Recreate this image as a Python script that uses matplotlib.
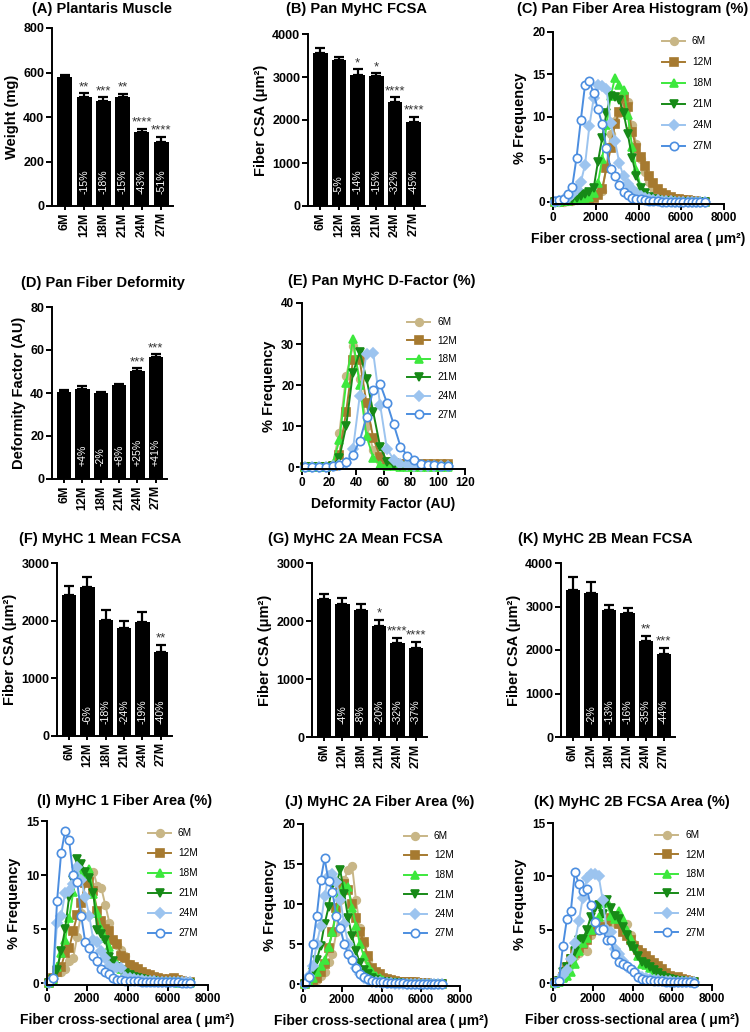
import numpy as np
import matplotlib
matplotlib.use('Agg')
import matplotlib.pyplot as plt

plt.rcParams['font.family'] = ['Liberation Sans', 'DejaVu Sans']
plt.rcParams['font.weight'] = 'bold'
plt.rcParams['axes.labelweight'] = 'bold'

# ---------------- data ----------------
ages = ['6M', '12M', '18M', '21M', '24M', '27M']

# (A) Plantaris muscle weight (mg)
weight_mean = [578, 492, 473, 492, 334, 287]
weight_err = [9, 14, 15, 13, 14, 24]
weight_stars = ['', '**', '***', '**', '****', '****']
weight_pct = ['', '-15%', '-18%', '-15%', '-43%', '-51%']

# (B) Pan MyHC FCSA
pan_mean = [3550, 3385, 3045, 3020, 2415, 1950]
pan_err = [115, 90, 130, 65, 110, 125]
pan_stars = ['', '', '*', '*', '****', '****']
pan_pct = ['', '-5%', '-14%', '-15%', '-32%', '-45%']

# (D) Pan fiber deformity factor
dfac_mean = [40.4, 41.8, 39.8, 43.9, 50.3, 56.8]
dfac_err = [0.9, 1.5, 0.6, 0.5, 1.2, 1.2]
dfac_stars = ['', '', '', '', '***', '***']
dfac_pct = ['', '+4%', '-2%', '+8%', '+25%', '+41%']

# (F) MyHC 1 mean FCSA
m1_mean = [2450, 2585, 2015, 1865, 1970, 1465]
m1_err = [156, 165, 163, 121, 173, 116]
m1_stars = ['', '', '', '', '', '**']
m1_pct = ['', '-6%', '-18%', '-24%', '-19%', '-40%']

# (G) MyHC 2A mean FCSA
m2a_mean = [2377, 2290, 2198, 1921, 1627, 1529]
m2a_err = [86, 104, 92, 98, 81, 115]
m2a_stars = ['', '', '', '*', '****', '****']
m2a_pct = ['', '-4%', '-8%', '-20%', '-32%', '-37%']

# (K) MyHC 2B mean FCSA
m2b_mean = [3382, 3320, 2926, 2857, 2201, 1900]
m2b_err = [286, 248, 101, 116, 123, 154]
m2b_stars = ['', '', '', '', '**', '***']
m2b_pct = ['', '-2%', '-13%', '-16%', '-35%', '-44%']

# histogram bins
area_bins = list(range(100, 7200, 200))     # fiber area bin centres (um^2)
dfac_bins = [2.5 + 5 * k for k in range(22)]  # deformity factor bin centres

# (C) Pan fiber area histogram (%)
c_6m = [0.0,0.0,0.0,0.1,0.1,0.2,0.3,0.4,0.5,0.7,1.0,1.3,4.2,8.0,9.5,10.5,11.9,11.8,9.0,6.8,5.0,3.5,2.4,1.6,1.0,0.7,0.5,0.3,0.2,0.2,0.1,0.1,0.1,0.0,0.0,0.0]
c_12m = [0.0,0.0,0.1,0.1,0.2,0.2,0.3,0.3,0.4,0.5,0.8,1.5,4.0,6.3,9.2,10.6,12.3,11.2,8.2,6.4,5.3,4.2,3.0,2.2,1.5,1.0,0.8,0.6,0.4,0.3,0.2,0.2,0.1,0.1,0.0,0.0]
c_18m = [0.0,0.0,0.1,0.1,0.2,0.2,0.3,0.5,0.6,1.0,2.2,5.0,9.0,12.5,14.6,13.8,13.2,10.2,6.5,3.8,1.8,0.9,0.5,0.3,0.2,0.1,0.1,0.1,0.0,0.0,0.0,0.0,0.0,0.0,0.0,0.0]
c_21m = [0.0,0.0,0.1,0.1,0.3,0.5,0.7,0.9,1.2,1.6,4.7,7.5,10.5,12.5,12.4,12.0,10.5,8.0,5.2,3.0,1.7,1.0,0.6,0.4,0.2,0.1,0.1,0.1,0.0,0.0,0.0,0.0,0.0,0.0,0.0,0.0]
c_24m = [0.0,0.1,0.3,0.5,0.9,1.5,2.3,4.4,8.9,12.2,13.8,13.6,13.3,9.3,7.2,4.6,3.0,2.1,1.5,1.0,0.7,0.5,0.3,0.2,0.2,0.1,0.1,0.1,0.0,0.0,0.0,0.0,0.0,0.0,0.0,0.0]
c_27m = [0.1,0.2,0.4,0.9,1.8,5.2,9.6,13.8,14.2,12.8,10.9,9.2,6.3,3.9,3.0,2.0,1.2,0.8,0.5,0.4,0.3,0.2,0.1,0.1,0.1,0.0,0.0,0.0,0.0,0.0,0.0,0.0,0.0,0.0,0.0,0.0]

# (E) Pan MyHC D-factor (%)
e_6m = [0,0,0,0,0.5,8.3,22.2,29.5,21.5,10.0,4.2,1.5,0.7,0.4,0.3,0.3,0.2,0.2,0.2,0.2,0.2,0.3]
e_12m = [0,0,0,0,0.2,3.0,13.5,26.0,26.0,15.5,7.0,2.5,1.2,0.9,0.8,0.8,0.8,0.8,0.7,0.7,0.7,0.8]
e_18m = [0,0,0,0.1,0.8,6.5,20.5,31.2,20.0,7.5,2.3,0.6,0.3,0.2,0.1,0.1,0,0,0,0,0,0]
e_21m = [0,0,0,0,0.3,2.2,10.0,23.0,28.0,21.5,13.3,5.0,1.3,0.5,0.3,0.2,0.1,0.1,0.1,0.1,0.1,0.1]
e_24m = [0,0,0,0,0.2,0.5,1.0,4.3,17.3,27.6,27.7,15.2,4.5,1.8,0.8,0.4,0.3,0.2,0.2,0.2,0.2,0.2]
e_27m = [0,0,0,0.1,0.3,0.6,1.2,3.0,6.4,12.2,18.9,20.3,15.7,10.4,5.0,2.8,1.7,0.8,0.5,0.4,0.3,0.3]

# (I) MyHC 1 fiber area (%)
i_6m = [0.0,0.5,1.0,1.0,1.3,2.0,2.3,4.3,6.5,9.4,9.8,10.3,9.0,8.8,7.2,5.6,4.0,3.5,3.1,2.5,1.8,1.3,1.0,0.8,0.6,0.5,0.4,0.3,0.3,0.3,0.4,0.5,0.3,0.2,0.1,0.1]
i_12m = [0.0,0.5,1.0,1.5,2.8,3.2,4.8,6.3,7.4,9.3,9.4,8.5,6.7,5.7,5.0,4.8,4.0,3.6,2.5,2.3,1.7,1.5,1.3,1.0,0.8,0.7,0.6,0.5,0.4,0.3,0.4,0.5,0.3,0.2,0.1,0.1]
i_18m = [0.0,0.3,1.5,2.8,4.0,6.0,8.4,10.2,10.2,10.0,10.6,8.2,6.5,5.0,4.2,3.3,2.0,1.8,1.3,1.0,0.8,0.6,0.5,0.4,0.3,0.2,0.2,0.1,0.1,0.1,0.1,0.1,0.0,0.0,0.0,0.0]
i_21m = [0.0,0.4,1.2,3.0,5.0,8.0,9.5,11.5,11.0,10.3,9.7,8.3,4.9,4.5,4.0,2.4,2.0,1.5,1.2,0.9,0.7,0.6,0.5,0.4,0.3,0.2,0.2,0.1,0.1,0.1,0.1,0.1,0.1,0.0,0.0,0.0]
i_24m = [0.0,0.4,5.6,6.2,8.3,8.5,9.2,10.7,9.5,8.0,6.2,4.0,3.8,3.0,2.3,1.6,1.3,1.5,1.4,0.6,0.5,0.4,0.3,0.3,0.2,0.2,0.2,0.1,0.1,0.1,0.1,0.1,0.1,0.1,0.1,0.1]
i_27m = [0.1,0.5,7.6,12.0,14.1,13.2,10.0,9.4,6.2,3.8,3.2,2.5,2.0,1.3,1.0,0.8,0.5,0.3,0.3,0.2,0.2,0.2,0.2,0.1,0.1,0.1,0.1,0.1,0.1,0.1,0.1,0.1,0.1,0.0,0.0,0.0]

# (J) MyHC 2A fiber area (%)
j_6m = [0.0,0.2,0.3,0.5,1.0,1.5,2.8,3.8,6.5,10.5,13.0,14.3,14.8,10.5,7.0,5.0,3.0,2.0,1.3,1.0,0.7,0.5,0.4,0.3,0.2,0.2,0.1,0.1,0.1,0.1,0.1,0.1,0.0,0.0,0.0,0.0]
j_12m = [0.0,0.3,0.5,0.8,1.5,2.5,4.5,6.5,9.5,12.4,12.5,11.8,10.0,8.3,6.5,5.2,3.5,2.0,1.5,1.2,0.8,0.6,0.5,0.4,0.3,0.3,0.3,0.3,0.2,0.1,0.1,0.1,0.0,0.0,0.0,0.0]
j_18m = [0.0,0.3,0.8,1.5,2.2,3.0,4.6,6.5,9.0,11.2,12.3,12.1,9.5,7.3,5.0,3.5,2.2,1.5,1.0,0.7,0.5,0.3,0.2,0.2,0.1,0.1,0.1,0.0,0.0,0.0,0.0,0.0,0.0,0.0,0.0,0.0]
j_21m = [0.0,0.5,1.5,3.0,4.8,7.5,9.6,12.4,12.6,14.2,11.3,8.2,6.0,4.1,2.6,1.8,1.2,0.8,0.5,0.3,0.2,0.2,0.1,0.1,0.1,0.0,0.0,0.0,0.0,0.0,0.0,0.0,0.0,0.0,0.0,0.0]
j_24m = [0.0,1.0,2.2,5.0,7.3,11.0,13.5,13.8,12.8,10.5,7.5,5.0,3.2,2.0,1.2,0.8,0.5,0.3,0.2,0.2,0.1,0.1,0.1,0.0,0.0,0.0,0.0,0.0,0.0,0.0,0.0,0.0,0.0,0.0,0.0,0.0]
j_27m = [0.1,0.9,5.0,8.5,13.0,15.7,12.9,11.5,8.5,7.0,5.0,3.8,3.0,2.0,1.3,0.9,0.6,0.4,0.3,0.2,0.2,0.1,0.1,0.1,0.1,0.1,0.0,0.0,0.0,0.0,0.0,0.0,0.0,0.0,0.0,0.0]

# (K) MyHC 2B FCSA area (%)
k_6m = [0.0,0.2,0.8,1.5,2.0,2.5,2.8,3.5,3.0,4.5,5.0,5.5,5.5,5.2,6.0,5.6,5.5,5.3,5.5,4.5,3.7,3.2,2.6,2.3,1.8,1.5,1.2,1.0,0.8,0.6,0.5,0.4,0.3,0.2,0.1,0.1]
k_12m = [0.0,0.2,0.6,1.5,2.3,2.8,3.3,3.7,4.0,4.9,5.0,5.2,5.3,5.2,6.1,6.3,5.5,4.8,4.4,4.0,3.5,3.1,2.8,2.5,2.2,1.9,1.6,1.3,0.9,0.7,0.5,0.6,0.4,0.3,0.2,0.1]
k_18m = [0.0,0.1,0.5,0.7,1.0,1.8,3.0,3.8,4.2,5.0,5.8,6.2,7.5,7.7,6.3,6.0,6.8,6.0,5.0,4.1,3.5,2.5,1.8,1.7,1.4,1.0,0.8,0.7,0.5,0.4,0.3,0.2,0.2,0.1,0.1,0.1]
k_21m = [0.0,0.2,1.0,1.5,2.3,3.0,4.0,4.1,5.0,6.2,7.0,7.3,6.5,7.8,7.0,6.3,6.0,5.3,4.5,3.5,3.2,2.5,2.0,1.8,1.5,1.2,0.9,0.7,0.5,0.4,0.3,0.2,0.2,0.1,0.1,0.1]
k_24m = [0.0,0.2,0.8,1.2,2.3,3.8,5.8,8.0,9.8,10.2,10.2,10.0,7.8,5.0,4.8,3.2,2.7,2.1,1.5,1.3,1.1,0.8,0.6,0.5,0.4,0.3,0.3,0.2,0.2,0.2,0.1,0.1,0.1,0.1,0.1,0.1]
k_27m = [0.1,0.2,3.5,6.0,6.8,10.4,9.3,8.6,8.8,7.3,5.7,5.0,5.1,4.0,4.0,2.7,2.0,1.8,1.6,1.3,1.0,0.6,0.4,0.3,0.3,0.2,0.2,0.2,0.1,0.1,0.1,0.1,0.1,0.1,0.1,0.0]

# ---------------- styling ----------------
colors = ['#C8B686', '#A67A30', '#3DE83D', '#178A17', '#9CC4EF', '#4C8EE0']
markers = ['o', 's', '^', 'v', 'D', 'o']
msizes = [5.5, 5.5, 6, 6, 5, 6]

W, H = 750, 1032
fig = plt.figure(figsize=(W / 100, H / 100), dpi=100)


def add_axes_px(x0, x1, yt, yb):
    return fig.add_axes([x0 / W, 1 - yb / H, (x1 - x0) / W, (yb - yt) / H])


def style(ax, fs=8.5):
    for s in ['top', 'right']:
        ax.spines[s].set_visible(False)
    for s in ['left', 'bottom']:
        ax.spines[s].set_linewidth(1.4)
    ax.tick_params(direction='out', length=4, width=1.4, labelsize=fs, pad=1.5)


def title_px(cx, cy, text):
    fig.text(cx / W, 1 - cy / H, text, ha='center', va='center',
             fontsize=10.5, fontweight='bold')


def bar_panel(box, title, tpos, means, errs, stars, pcts, ymax, ystep, ylabel):
    ax = add_axes_px(*box)
    style(ax, fs=9)
    x = np.arange(len(ages))
    ax.bar(x, means, width=0.78, color='black', zorder=2)
    ax.errorbar(x, means, yerr=[np.zeros(len(errs)), errs], fmt='none',
                ecolor='black', elinewidth=1.6, capsize=3.5, capthick=1.6,
                zorder=1)
    for i, (m, e, s, p) in enumerate(zip(means, errs, stars, pcts)):
        if s:
            ax.annotate(s, xy=(i, m + e), xytext=(0, 0),
                        textcoords='offset points', ha='center', va='bottom',
                        fontsize=9.5, fontweight='normal', color='#333333')
        if p:
            ax.annotate(p, xy=(i, 0), xytext=(0, 9),
                        textcoords='offset points', ha='center', va='bottom',
                        rotation=90, fontsize=7.6, fontweight='normal',
                        color='white', zorder=5)
    ax.set_xlim(-0.66, 5.61)
    ax.set_ylim(0, ymax)
    ax.set_yticks(np.arange(0, ymax + 1e-9, ystep))
    ax.set_xticks(x)
    ax.set_xticklabels(ages, rotation=90)
    ax.tick_params(axis='x', length=3)
    ax.set_ylabel(ylabel, fontsize=10.5, labelpad=3)
    title_px(*tpos, title)
    return ax


def hist_panel(box, title, tpos, xbins, series, xmax, xstep, ymax, ystep,
               xlabel, leg_xy, leg_sp):
    ax = add_axes_px(*box)
    style(ax, fs=8.5)
    for lab, ys, c, m, ms in zip(ages, series, colors, markers, msizes):
        mfc = 'white' if lab == '27M' else c
        ax.plot(xbins, ys, color=c, marker=m, ms=ms, mfc=mfc, mec=c,
                mew=1.2, lw=1.4, label=lab, clip_on=False)
    ax.set_xlim(0, xmax)
    ax.set_ylim(-0.012 * ymax, ymax)
    ax.set_xticks(np.arange(0, xmax + 1e-9, xstep))
    ax.set_yticks(np.arange(0, ymax + 1e-9, ystep))
    ax.set_ylabel('% Frequency', fontsize=10.5, labelpad=4)
    ax.set_xlabel(xlabel, fontsize=10, labelpad=6)
    ax.legend(loc='upper left', bbox_to_anchor=(leg_xy[0] / W, 1 - leg_xy[1] / H),
              bbox_transform=fig.transFigure, frameon=False,
              prop={'size': 7.2, 'weight': 'normal'}, handlelength=2.3,
              handletextpad=0.7, labelspacing=leg_sp, borderpad=0,
              borderaxespad=0)
    title_px(*tpos, title)
    return ax


area_label = 'Fiber cross-sectional area ( \u03bcm\u00b2)'
csa_label = 'Fiber CSA (\u03bcm\u00b2)'

bar_panel((52, 173, 28, 206), '(A) Plantaris Muscle', (102, 9),
          weight_mean, weight_err, weight_stars, weight_pct, 800, 200,
          'Weight (mg)')
bar_panel((308, 425, 34, 206), '(B) Pan MyHC FCSA', (356, 9),
          pan_mean, pan_err, pan_stars, pan_pct, 4000, 1000, csa_label)
hist_panel((553, 724, 32, 204), '(C) Pan Fiber Area Histogram (%)', (633, 9),
           area_bins, [c_6m, c_12m, c_18m, c_21m, c_24m, c_27m],
           8000, 2000, 20, 5, area_label, (662, 36), 1.1)

bar_panel((52, 167, 307, 479), '(D) Pan Fiber Deformity', (103, 283),
          dfac_mean, dfac_err, dfac_stars, dfac_pct, 80, 20,
          'Deformity Factor (AU)')
hist_panel((302, 465, 303, 469), '(E) Pan MyHC D-Factor (%)', (382, 281),
           dfac_bins, [e_6m, e_12m, e_18m, e_21m, e_24m, e_27m],
           120, 20, 40, 10, 'Deformity Factor (AU)', (407, 317), 0.85)

bar_panel((57, 172, 563, 736), '(F) MyHC 1 Mean FCSA', (100, 539),
          m1_mean, m1_err, m1_stars, m1_pct, 3000, 1000, csa_label)
bar_panel((312, 427, 563, 737), '(G) MyHC 2A Mean FCSA', (355, 539),
          m2a_mean, m2a_err, m2a_stars, m2a_pct, 3000, 1000, csa_label)
bar_panel((561, 675, 563, 737), '(K) MyHC 2B Mean FCSA', (605, 539),
          m2b_mean, m2b_err, m2b_stars, m2b_pct, 4000, 1000, csa_label)

hist_panel((47, 208, 821, 985), '(I) MyHC 1 Fiber Area (%)', (125, 801),
           area_bins, [i_6m, i_12m, i_18m, i_21m, i_24m, i_27m],
           8000, 2000, 15, 5, area_label, (148, 828), 1.0)
hist_panel((303, 460, 824, 986), '(J) MyHC 2A Fiber Area (%)', (380, 802),
           area_bins, [j_6m, j_12m, j_18m, j_21m, j_24m, j_27m],
           8000, 2000, 20, 5, area_label, (404, 831), 0.95)
hist_panel((553, 712, 823, 985), '(K) MyHC 2B FCSA Area (%)', (632, 802),
           area_bins, [k_6m, k_12m, k_18m, k_21m, k_24m, k_27m],
           8000, 2000, 15, 5, area_label, (655, 830), 0.95)

fig.savefig('out.png', dpi=100, facecolor='white')
